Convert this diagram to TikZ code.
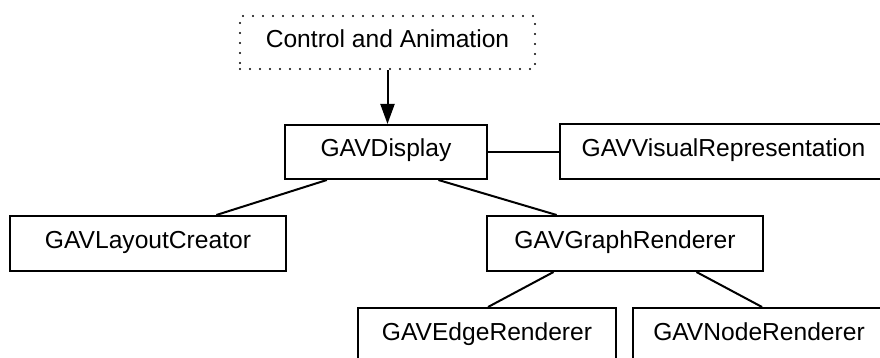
\documentclass[tikz,border=0pt]{standalone}
\usepackage{fontspec}
\setmainfont{Liberation Sans}
\usetikzlibrary{arrows.meta,calc}

\begin{document}
\begin{tikzpicture}[x=0.5pt,y=-0.5pt,
  font=\fontsize{12.3}{14}\selectfont,
  box/.style={draw,line width=1pt,inner sep=0pt,minimum height=27.5pt,
              text height=8.8pt,text depth=3.8pt},
  ctrlbox/.style={box,line width=1.1pt,dash pattern=on 0pt off 5pt,line cap=round,minimum height=26.5pt},
  link/.style={line width=1pt},
  flow/.style={link,-{Triangle[length=10pt,width=7pt]}}]
  \useasboundingbox (0,0) rectangle (880,358);
  \clip (0,0) rectangle (880,358);

  % classes
  \node[ctrlbox,minimum width=147.5pt] (ctrl)   at (387.5,42.5) {Control and Animation};
  \node[box,minimum width=101pt,minimum height=27pt] (disp) at (386,152) {GAVDisplay};
  \node[box,minimum width=163.5pt] (vis)    at (723.5,151.5) {GAVVisualRepresentation};
  \node[box,minimum width=138pt]   (layout) at (148,243.5) {GAVLayoutCreator};
  \node[box,minimum width=138pt]   (graph)  at (625,243.5) {GAVGraphRenderer};
  \node[box,minimum width=129pt]   (edge)   at (487,335.5) {GAVEdgeRenderer};
  \node[box,minimum width=126pt]   (noder)  at (759,335.5) {GAVNodeRenderer};

  % relations
  \draw[flow] (ctrl.south) -- (ctrl.south |- disp.north);
  \draw[link] (disp.east) -- (disp.east -| vis.west);
  \draw[link] ($(disp.south west)!0.21!(disp.south east)$)
           -- ($(layout.north west)!0.746!(layout.north east)$);
  \draw[link] ($(disp.south west)!0.757!(disp.south east)$)
           -- ($(graph.north west)!0.254!(graph.north east)$);
  \draw[link] ($(graph.south west)!0.243!(graph.south east)$)
           -- ($(edge.north west)!0.504!(edge.north east)$);
  \draw[link] ($(graph.south west)!0.757!(graph.south east)$)
           -- ($(noder.north west)!0.512!(noder.north east)$);
\end{tikzpicture}
\end{document}
